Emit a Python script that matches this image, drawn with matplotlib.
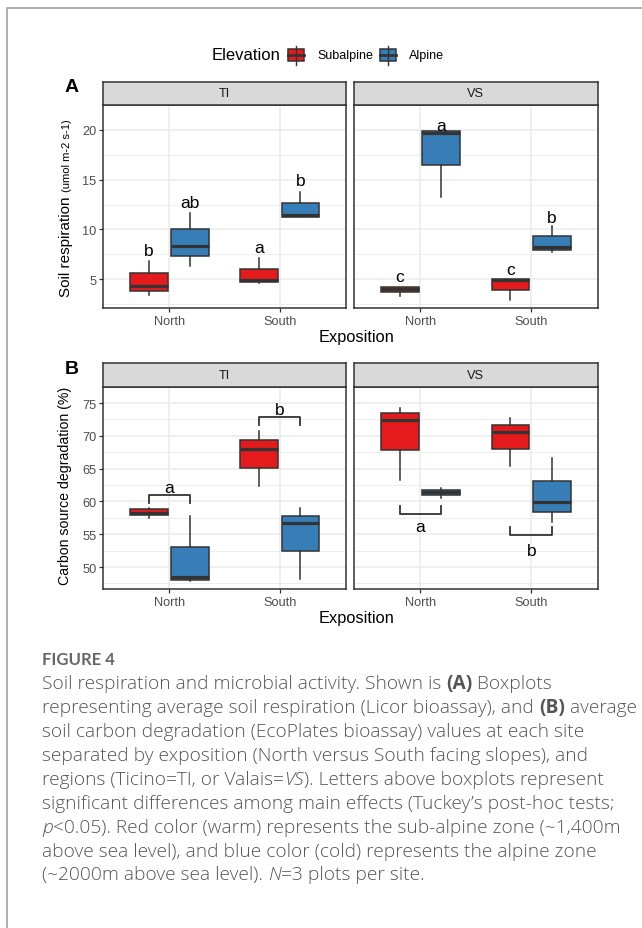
import matplotlib.pyplot as plt
from matplotlib.patches import Rectangle

W, H = 642, 929

exposition = ["North", "South"]
regions = ["TI", "VS"]
elevations = ["Subalpine", "Alpine"]
colors = ["#E41A1C", "#377EB8"]

## -------------------- Panel A: soil respiration, [whislo, q1, med, q3, whishi] for North, South
resp_ti_subalpine = [[3.44, 3.80, 4.29, 5.58, 6.81], [4.63, 4.75, 4.97, 6.07, 7.12]]
resp_ti_alpine = [[6.29, 7.30, 8.37, 10.03, 11.69], [11.29, 11.29, 11.41, 12.64, 13.80]]
resp_vs_subalpine = [[3.28, 3.68, 3.99, 4.23, 4.23], [2.91, 3.90, 4.88, 5.00, 5.00]]
resp_vs_alpine = [[13.22, 16.47, 19.72, 19.85, 19.85], [7.73, 7.98, 8.25, 9.33, 10.34]]
resp_letters_ti = [["b", "ab"], ["a", "b"]]
resp_letters_vs = [["c", "a"], ["c", "b"]]
resp_letter_y_ti = [[7.9, 12.7], [8.2, 14.9]]
resp_letter_y_vs = [[5.3, 20.4], [6.0, 11.2]]
resp_ylim = (2.08, 20.76)
resp_ticks = [5, 10, 15, 20]

## -------------------- Panel B: carbon source degradation
carb_ti_subalpine = [[57.50, 57.93, 58.22, 58.80, 58.94], [62.28, 65.10, 68.07, 69.41, 70.75]]
carb_ti_alpine = [[47.90, 48.09, 48.42, 53.10, 57.74], [48.18, 52.39, 56.64, 57.79, 58.99]]
carb_vs_subalpine = [[63.29, 67.88, 72.42, 73.42, 74.28], [65.39, 67.93, 70.55, 71.65, 72.71]]
carb_vs_alpine = [[60.47, 60.95, 61.47, 61.81, 62.09], [56.79, 58.32, 59.90, 63.19, 66.59]]
carb_letters_ti = ["a", "b"]
carb_letters_vs = ["a", "b"]
carb_bracket_y_ti = [60.95, 72.85]
carb_bracket_y_vs = [58.13, 54.92]
carb_letter_y_ti = [62.1, 74.0]
carb_letter_y_vs = [56.2, 52.5]
carb_ylim = (46.6, 75.67)
carb_ticks = [50, 55, 60, 65, 70, 75]

EDGE = "#333333"
TXT = "#4D4D4D"
GRID = "#EBEBEB"
DODGE = 0.1875
BOXW = 0.34
TICKFS = 9.2

plt.rcParams['font.family'] = ['Liberation Sans', 'DejaVu Sans']

fig = plt.figure(figsize=(W / 100, H / 100), dpi=100)


def rect(x0, y0, x1, y1):
    return [x0 / W, 1 - y1 / H, (x1 - x0) / W, (y1 - y0) / H]


def fy(y):
    return 1 - y / H


def stats_of(v):
    return dict(whislo=v[0], q1=v[1], med=v[2], q3=v[3], whishi=v[4], fliers=[])


def draw_panel(ax, sub, alp, ylim, ticks, first):
    for k, (vals, col) in enumerate([(sub, colors[0]), (alp, colors[1])]):
        pos = [i + 1 + (2 * k - 1) * DODGE for i in range(len(exposition))]
        ax.bxp([stats_of(v) for v in vals], positions=pos, widths=BOXW,
               patch_artist=True, showfliers=False, showcaps=False,
               boxprops=dict(facecolor=col, edgecolor=EDGE, linewidth=1.1),
               medianprops=dict(color=EDGE, linewidth=2.3, solid_capstyle='butt'),
               whiskerprops=dict(color=EDGE, linewidth=1.1))
    ax.set_xlim(0.4, 2.6)
    ax.set_ylim(*ylim)
    ax.set_xticks([1, 2])
    ax.set_xticklabels(exposition, fontsize=TICKFS, color=TXT)
    step = ticks[1] - ticks[0]
    ax.set_yticks(ticks)
    ax.set_yticks([t - step / 2 for t in ticks] + [ticks[-1] + step / 2], minor=True)
    ax.set_xticks([], minor=True)
    ax.grid(True, which='major', color=GRID, linewidth=1.1)
    ax.grid(True, which='minor', axis='y', color=GRID, linewidth=0.6)
    ax.set_axisbelow(True)
    ax.tick_params(which='major', length=3, width=0.9, color=EDGE, pad=2)
    ax.tick_params(which='minor', length=0)
    if first:
        ax.set_yticklabels([str(t) for t in ticks], fontsize=TICKFS, color=TXT)
    else:
        ax.tick_params(axis='y', which='both', left=False, labelleft=False)
    for s in ax.spines.values():
        s.set_color(EDGE)
        s.set_linewidth(1.1)


def draw_strip(box, label):
    sa = fig.add_axes(rect(*box))
    sa.set_facecolor("#D9D9D9")
    sa.set_xticks([])
    sa.set_yticks([])
    for s in sa.spines.values():
        s.set_color(EDGE)
        s.set_linewidth(1.1)
    sa.text(0.5, 0.5, label, ha='center', va='center', fontsize=TICKFS, color="#1A1A1A",
            transform=sa.transAxes)


cols = [(103.3, 346), (354, 597.7)]

## -------------------- Panel A
resp_sub = [resp_ti_subalpine, resp_vs_subalpine]
resp_alp = [resp_ti_alpine, resp_vs_alpine]
resp_let = [resp_letters_ti, resp_letters_vs]
resp_ly = [resp_letter_y_ti, resp_letter_y_vs]
for j, (x0, x1) in enumerate(cols):
    ax = fig.add_axes(rect(x0, 106, x1, 309.3))
    draw_panel(ax, resp_sub[j], resp_alp[j], resp_ylim, resp_ticks, j == 0)
    for i in range(len(exposition)):
        for k in range(2):
            ax.text(i + 1 + (2 * k - 1) * DODGE, resp_ly[j][i][k], resp_let[j][i][k],
                    ha='center', va='center', fontsize=12.5, color='black')
    draw_strip((x0, 82.7, x1, 106), regions[j])

## -------------------- Panel B
carb_sub = [carb_ti_subalpine, carb_vs_subalpine]
carb_alp = [carb_ti_alpine, carb_vs_alpine]
carb_let = [carb_letters_ti, carb_letters_vs]
carb_by = [carb_bracket_y_ti, carb_bracket_y_vs]
carb_ly = [carb_letter_y_ti, carb_letter_y_vs]
for j, (x0, x1) in enumerate(cols):
    ax = fig.add_axes(rect(x0, 387.7, x1, 590.3))
    draw_panel(ax, carb_sub[j], carb_alp[j], carb_ylim, carb_ticks, j == 0)
    leg = -1.2 if j == 0 else 1.2
    for i in range(len(exposition)):
        xa, xb = i + 1 - DODGE, i + 1 + DODGE
        yb = carb_by[j][i]
        ax.plot([xa, xa, xb, xb], [yb + leg, yb, yb, yb + leg], color=EDGE, lw=1.3)
        ax.text(i + 1, carb_ly[j][i], carb_let[j][i], ha='center', va='center',
                fontsize=12.5, color='black')
    draw_strip((x0, 364.3, x1, 387.7), regions[j])

## -------------------- axis titles, panel letters
fig.text(357 / W, fy(337.3), "Exposition", ha='center', va='center', fontsize=11.8)
fig.text(357 / W, fy(619), "Exposition", ha='center', va='center', fontsize=11.8)
t1 = fig.text(70 / W, fy(297), "Soil respiration ", rotation=90, rotation_mode='anchor',
              ha='left', va='baseline', fontsize=11)
fig.text(65 / W, fy(486), "Carbon source degradation (%)", rotation=90, ha='center',
         va='center', fontsize=10.2)
fig.text(72 / W, fy(88), "A", ha='center', va='center', fontsize=14, fontweight='bold')
fig.text(72 / W, fy(370), "B", ha='center', va='center', fontsize=14, fontweight='bold')

renderer = fig.canvas.get_renderer()
bb = t1.get_window_extent(renderer)
fig.text(70 / W, bb.y1 / H, "(umol m-2 s-1)", rotation=90, rotation_mode='anchor',
         ha='left', va='baseline', fontsize=8)

## -------------------- legend
fig.text(212 / W, fy(55), "Elevation", ha='left', va='center', fontsize=12)
lax = fig.add_axes(rect(280, 40, 460, 72))
lax.set_xlim(280, 460)
lax.set_ylim(72, 40)
lax.axis('off')
for (kx, lab), col in zip([(288, "Subalpine"), (380, "Alpine")], colors):
    lax.plot([kx + 8, kx + 8], [47, 66], color=EDGE, lw=1.0)
    lax.add_patch(Rectangle((kx, 50), 16, 12, facecolor=col, edgecolor=EDGE, lw=1.1))
    lax.plot([kx, kx + 16], [56, 56], color=EDGE, lw=2.0)
    lax.text(kx + 29, 56, lab, ha='left', va='center', fontsize=9)

## -------------------- frame
fig.add_artist(plt.Line2D([7 / W, 7 / W, 1], [0, fy(9), fy(9)], color="#A8A8A8", lw=1.3))

## -------------------- caption
CAP = "#555555"
CAPFONT = ['Open Sans', 'DejaVu Sans']
fig.text(42 / W, fy(665), "FIGURE 4", ha='left', va='baseline', fontsize=12,
         color="#666666", family=['Lato', 'DejaVu Sans'], fontweight='bold')

caption = [
    [("Soil respiration and microbial activity. Shown is ", 'n'), ("(A)", 'b'), (" Boxplots", 'n')],
    [("representing average soil respiration (Licor bioassay), and ", 'n'), ("(B)", 'b'), (" average", 'n')],
    [("soil carbon degradation (EcoPlates bioassay) values at each site", 'n')],
    [("separated by exposition (North versus South facing slopes), and", 'n')],
    [("regions (Ticino=TI, or Valais=", 'n'), ("VS", 'i'), ("). Letters above boxplots represent", 'n')],
    [("significant differences among main effects (Tuckey\u2019s post-hoc tests;", 'n')],
    [("p", 'i'), ("<0.05). Red color (warm) represents the sub-alpine zone (~1,400m", 'n')],
    [("above sea level), and blue color (cold) represents the alpine zone", 'n')],
    [("(~2000m above sea level). ", 'n'), ("N", 'i'), ("=3 plots per site.", 'n')],
]
for n, line in enumerate(caption):
    x = 42
    yb = 689.3 + 23.9 * n
    for seg, st in line:
        t = fig.text(x / W, fy(yb), seg, ha='left', va='baseline', fontsize=13.8, color=CAP,
                     family=CAPFONT, fontweight='bold' if st == 'b' else 'light',
                     fontstyle='italic' if st == 'i' else 'normal')
        x = t.get_window_extent(renderer).x1

fig.savefig("out.png", dpi=100)
